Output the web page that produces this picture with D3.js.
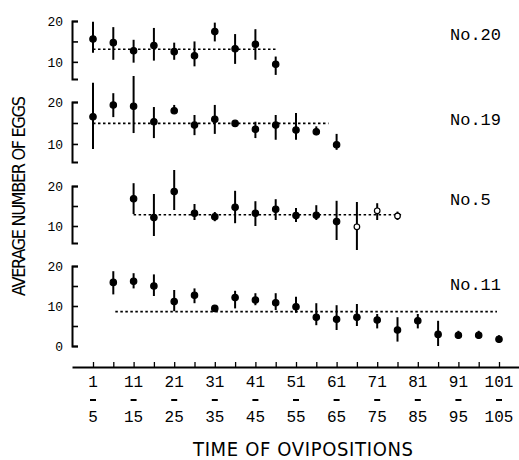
<!DOCTYPE html>
<html>
<head>
<meta charset="utf-8">
<script src="https://cdn.jsdelivr.net/npm/d3@7"></script>
<style>
  body { margin: 0; background: #fff; }
</style>
</head>
<body>
<script>
// Groups of 5 ovipositions (1-5, 6-10, ... 101-105)
const groups = ["1-5","6-10","11-15","16-20","21-25","26-30","31-35","36-40","41-45","46-50",
                "51-55","56-60","61-65","66-70","71-75","76-80","81-85","86-90","91-95","96-100","101-105"];
const xTopLabels = ["1","11","21","31","41","51","61","71","81","91","101"];
const xBottomLabels = ["5","15","25","35","45","55","65","75","85","95","105"];

// No.20
const no20Mean = [15.6,14.7,12.7,14.0,12.5,11.5,17.4,13.2,14.3,9.4, null,null,null,null,null,null,null,null,null,null,null];
const no20High = [19.8,18.5,15.4,18.3,14.7,15.0,19.6,16.8,18.0,11.3, null,null,null,null,null,null,null,null,null,null,null];
const no20Low  = [12.2,10.5,9.8,10.3,10.5,8.9,15.0,9.5,10.5,6.8, null,null,null,null,null,null,null,null,null,null,null];
const no20Avg = 13.1;

// No.19
const no19Mean = [16.5,19.3,19.0,15.3,17.9,14.5,15.9,14.9,13.5,14.5,13.3,12.9,9.8, null,null,null,null,null,null,null,null];
const no19High = [24.6,22.1,26.2,18.8,19.3,16.9,19.3,15.4,15.3,16.9,17.4,14.2,12.4, null,null,null,null,null,null,null,null];
const no19Low  = [8.8,16.4,12.6,11.4,17.4,12.1,12.4,14.4,11.4,11.0,11.0,12.1,8.6, null,null,null,null,null,null,null,null];
const no19Avg = 14.9;

// No.5 (last three groups drawn as open circles)
const no5Mean = [null,null,16.8,12.1,18.6,13.2,12.3,14.7,13.2,14.2,12.6,12.7,11.1,9.8,13.8,12.5, null,null,null,null,null];
const no5High = [null,null,20.7,18.0,24.0,15.5,13.5,18.8,16.2,16.7,14.5,15.2,16.3,16.0,15.7,13.6, null,null,null,null,null];
const no5Low  = [null,null,13.0,7.5,14.0,11.5,11.2,10.7,10.0,11.5,11.0,11.5,6.5,4.0,11.5,11.5, null,null,null,null,null];
const no5Open = ["66-70","71-75","76-80"];
const no5Avg = 12.8;

// No.11
const no11Mean = [null,15.9,16.2,15.0,11.1,12.7,9.4,12.1,11.5,10.8,9.8,7.2,6.7,7.2,6.5,4.0,6.3,2.9,2.7,2.7,1.7];
const no11High = [null,18.7,18.2,17.9,14.0,14.4,10.2,13.8,13.2,13.2,12.3,10.7,10.2,10.5,8.0,7.2,8.0,6.3,3.8,3.8,2.7];
const no11Low  = [null,12.9,14.4,12.5,8.7,10.7,8.8,9.4,10.2,9.0,8.3,5.2,4.0,5.0,4.4,1.1,4.4,0.0,1.8,1.8,0.8];
const no11Avg = 8.6;

const W = 519, H = 460;
const svg = d3.select("body").append("svg")
    .attr("width", W)
    .attr("height", H);

const monoFont = "'Liberation Mono', 'DejaVu Sans Mono', monospace";
const narrowFont = "'Liberation Sans Narrow', 'DejaVu Sans Condensed', 'Liberation Sans', sans-serif";

// shared x scale: group index -> pixel
const x = d3.scaleLinear().domain([0, groups.length - 1]).range([93, 499]);
const gi = g => groups.indexOf(g);

const panels = [
    { label: "No.20", mean: no20Mean, high: no20High, low: no20Low, avg: no20Avg, avgFrom: 0, avgTo: 9,
      open: [], y: d3.scaleLinear().domain([5.8, 20]).range([79, 21]), ticks: [10, 15, 20], labelY: 40 },
    { label: "No.19", mean: no19Mean, high: no19High, low: no19Low, avg: no19Avg, avgFrom: 0, avgTo: 11.6,
      open: [], y: d3.scaleLinear().domain([5.7, 20]).range([162, 102]), ticks: [10, 15, 20], labelY: 125 },
    { label: "No.5", mean: no5Mean, high: no5High, low: no5Low, avg: no5Avg, avgFrom: 2, avgTo: 15.2,
      open: no5Open.map(gi), y: d3.scaleLinear().domain([5.75, 20]).range([243, 186]), ticks: [10, 15, 20], labelY: 205 },
    { label: "No.11", mean: no11Mean, high: no11High, low: no11Low, avg: no11Avg, avgFrom: 1.1, avgTo: 19.9,
      open: [], y: d3.scaleLinear().domain([0, 20]).range([346, 266]), ticks: [0, 5, 10, 15, 20], labelY: 290 }
];

panels.forEach(function (p) {
    const g = svg.append("g");

    // bracket-style y axis, ticks pointing inward
    const ax = g.append("g")
        .attr("transform", "translate(72,0)")
        .call(d3.axisLeft(p.y)
            .tickValues(p.ticks)
            .tickSize(-6)
            .tickSizeOuter(-6)
            .tickPadding(9)
            .tickFormat(d => (d % 10 === 0 ? d : "")));
    ax.select(".domain").attr("stroke-width", 2);
    ax.selectAll(".tick line").attr("stroke-width", 1.6);
    ax.selectAll("text")
        .attr("font-family", monoFont)
        .attr("font-size", 13)
        .attr("fill", "#000");

    // dotted overall average
    g.append("line")
        .attr("x1", x(p.avgFrom))
        .attr("x2", x(p.avgTo))
        .attr("y1", p.y(p.avg))
        .attr("y2", p.y(p.avg))
        .attr("stroke", "#000")
        .attr("stroke-width", 1.6)
        .attr("stroke-dasharray", "2.5,2.5");

    const idx = d3.range(groups.length).filter(i => p.mean[i] != null);

    // error bars
    g.selectAll(".err").data(idx).join("line")
        .attr("x1", i => x(i))
        .attr("x2", i => x(i))
        .attr("y1", i => p.y(p.high[i]))
        .attr("y2", i => p.y(p.low[i]))
        .attr("stroke", "#000")
        .attr("stroke-width", 2);

    // means
    g.selectAll(".pt").data(idx).join("circle")
        .attr("cx", i => x(i))
        .attr("cy", i => p.y(p.mean[i]))
        .attr("r", i => (p.open.includes(i) ? 2.8 : 3.2))
        .attr("fill", i => (p.open.includes(i) ? "#fff" : "#000"))
        .attr("stroke", "#000")
        .attr("stroke-width", 1.2);

    g.append("text")
        .attr("x", 450)
        .attr("y", p.labelY)
        .attr("font-family", monoFont)
        .attr("font-size", 17)
        .text(p.label);
});

// x axis along the bottom
const xAxisScale = d3.scaleLinear().domain([x.invert(72), x.invert(519)]).range([72, 519]);
const xa = svg.append("g")
    .attr("transform", "translate(0,367)")
    .call(d3.axisBottom(xAxisScale)
        .tickValues(d3.range(groups.length))
        .tickSize(-5)
        .tickSizeOuter(0)
        .tickFormat(""));
xa.select(".domain").attr("stroke-width", 1.8);
xa.selectAll(".tick line").attr("stroke-width", 1.3);

// two-line range labels: "1 - 5", "11 - 15", ...
const labelIdx = d3.range(0, groups.length, 2);
svg.selectAll(".xtop").data(labelIdx).join("text")
    .attr("x", i => x(i))
    .attr("y", 387)
    .attr("text-anchor", "middle")
    .attr("font-family", monoFont)
    .attr("font-size", 16)
    .text((i, k) => xTopLabels[k]);
svg.selectAll(".xdash").data(labelIdx).join("line")
    .attr("x1", i => x(i) - 3)
    .attr("x2", i => x(i) + 3)
    .attr("y1", 400)
    .attr("y2", 400)
    .attr("stroke", "#000")
    .attr("stroke-width", 2);
svg.selectAll(".xbot").data(labelIdx).join("text")
    .attr("x", i => x(i))
    .attr("y", 422)
    .attr("text-anchor", "middle")
    .attr("font-family", monoFont)
    .attr("font-size", 16)
    .text((i, k) => xBottomLabels[k]);

// axis titles
svg.append("text")
    .attr("x", 303)
    .attr("y", 456)
    .attr("text-anchor", "middle")
    .attr("font-family", narrowFont)
    .attr("font-size", 20)
    .attr("textLength", 220)
    .text("TIME OF OVIPOSITIONS");

svg.append("text")
    .attr("transform", "translate(25,196) rotate(-90)")
    .attr("text-anchor", "middle")
    .attr("font-family", narrowFont)
    .attr("font-size", 18)
    .attr("textLength", 200)
    .text("AVERAGE NUMBER OF EGGS");
</script>
</body>
</html>
